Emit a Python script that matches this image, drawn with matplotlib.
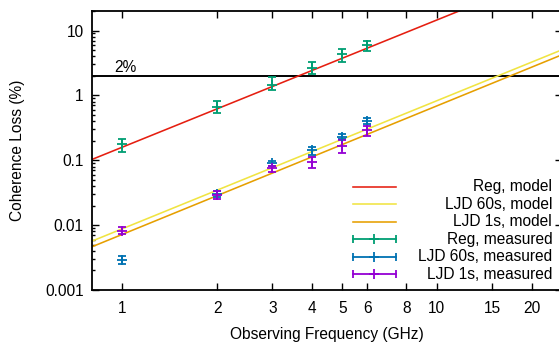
import matplotlib
matplotlib.use("Agg")
import matplotlib.pyplot as plt
import numpy as np
from matplotlib.ticker import FixedLocator, NullLocator, LogLocator, NullFormatter

plt.rcParams['font.family'] = ['Liberation Sans', 'DejaVu Sans']
plt.rcParams['font.size'] = 11.2

# measured points (frequency in GHz, coherence loss in %)
freq = [1, 2, 3, 4, 5, 6]
reg_meas = [0.177, 0.658, 1.47, 2.63, 4.33, 6.0]
reg_lo   = [0.136, 0.532, 1.22, 2.12, 3.26, 4.86]
reg_hi   = [0.216, 0.815, 1.91, 3.33, 5.22, 7.0]

ljd60_meas = [0.00294, 0.030, 0.090, 0.145, 0.232, 0.405]
ljd60_lo   = [0.00250, 0.027, 0.082, 0.121, 0.211, 0.365]
ljd60_hi   = [0.00335, 0.033, 0.099, 0.162, 0.255, 0.445]

ljd1_meas = [0.0082, 0.0292, 0.077, 0.093, 0.163, 0.294]
ljd1_lo   = [0.0072, 0.0257, 0.067, 0.077, 0.131, 0.240]
ljd1_hi   = [0.0092, 0.0336, 0.083, 0.114, 0.205, 0.340]

# model lines (straight in log-log), values at the ends of the x range
model_freq  = [0.8, 25]
reg_model   = [0.103, 87.6]
ljd60_model = [0.00567, 5.05]
ljd1_model  = [0.00464, 4.23]

threshold = 2.0
xticks = [1, 2, 3, 4, 5, 6, 8, 10, 15, 20]
yticks = [0.001, 0.01, 0.1, 1, 10]
ytick_labels = ["0.001", "0.01", "0.1", "1", "10"]

RED, YEL, ORA = "#e51e10", "#f0e442", "#e69f00"
GRN, BLU, PUR = "#009e73", "#0072b2", "#9400d3"

fig = plt.figure(figsize=(5.59, 3.44), dpi=100)
ax = fig.add_axes([92/559, 54/344, 470/559, 279/344])
ax.set_xscale("log")
ax.set_yscale("log")

ax.axhline(threshold, color="black", lw=1.4, zorder=1)
ax.text(0.94, 2.3, "2%", ha="left", va="baseline")

lw = 1.15
ax.plot(model_freq, reg_model, color=RED, lw=lw, zorder=2)
ax.plot(model_freq, ljd60_model, color=YEL, lw=lw, zorder=2)
ax.plot(model_freq, ljd1_model, color=ORA, lw=lw, zorder=2)

def meas(y, lo, hi, c):
    y = np.array(y); lo = np.array(lo); hi = np.array(hi)
    ax.errorbar(freq, y, yerr=[y - lo, hi - y], fmt="+", color=c, ms=7,
                mew=1.3, elinewidth=1.3, capsize=2.6, capthick=1.3, zorder=3)

meas(reg_meas, reg_lo, reg_hi, GRN)
meas(ljd60_meas, ljd60_lo, ljd60_hi, BLU)
meas(ljd1_meas, ljd1_lo, ljd1_hi, PUR)

ax.set_xlim(0.8, 25)
ax.set_ylim(0.001, 20)
ax.xaxis.set_major_locator(FixedLocator(xticks))
ax.set_xticklabels([str(t) for t in xticks])
ax.xaxis.set_minor_locator(NullLocator())
ax.yaxis.set_major_locator(FixedLocator(yticks))
ax.set_yticklabels(ytick_labels)
ax.yaxis.set_minor_locator(LogLocator(base=10, subs=np.arange(2, 10)))
ax.yaxis.set_minor_formatter(NullFormatter())
ax.tick_params(which="both", direction="in", top=True, right=True, width=1.0)
ax.tick_params(which="major", length=5, pad=6)
ax.tick_params(axis="x", which="major", pad=8)
ax.tick_params(which="minor", length=2.5)
for s in ax.spines.values():
    s.set_linewidth(1.3)

ax.set_xlabel("Observing Frequency (GHz)")
ax.xaxis.set_label_coords(0.5, -0.133)
ax.set_ylabel("Coherence Loss (%)")
ax.yaxis.set_label_coords(-0.142, 0.5)

# legend drawn gnuplot-style: sample on the left, text right-aligned
entries = [("Reg, model", RED, False), ("LJD 60s, model", YEL, False),
           ("LJD 1s, model", ORA, False), ("Reg, measured", GRN, True),
           ("LJD 60s, measured", BLU, True), ("LJD 1s, measured", PUR, True)]
x0, x1, xt = 0.5553, 0.6468, 0.979
for i, (lab, c, err) in enumerate(entries):
    y = 0.3703 - i * 0.0626
    ax.plot([x0, x1], [y, y], color=c, lw=lw if not err else 1.3,
            transform=ax.transAxes, clip_on=False, zorder=4)
    if err:
        ax.plot([x0, x1], [y, y], ls="none", marker="|", ms=5.5, mew=1.3,
                color=c, transform=ax.transAxes, clip_on=False, zorder=4)
        ax.plot([(x0 + x1) / 2], [y], ls="none", marker="+", ms=7, mew=1.3,
                color=c, transform=ax.transAxes, clip_on=False, zorder=4)
    ax.text(xt, y, lab, ha="right", va="center", transform=ax.transAxes)

fig.savefig("out.png", dpi=100)
